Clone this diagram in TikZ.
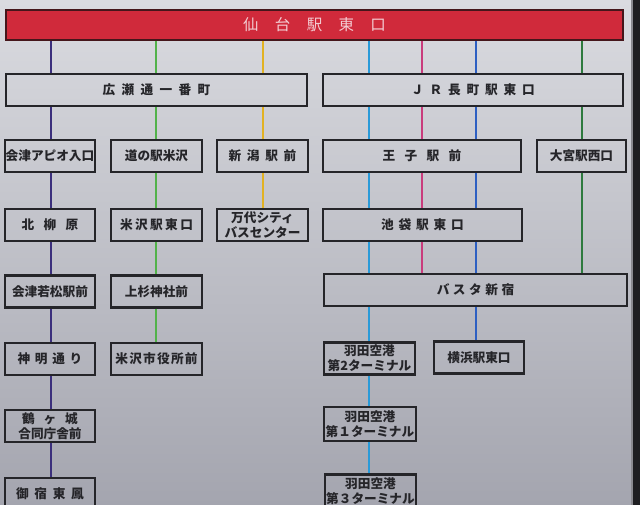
\documentclass[tikz,border=0pt]{standalone}
\usepackage{fontspec}
\newfontfamily\jp{Noto Sans CJK JP}
\newcommand{\spaced}[2]{{\addfontfeature{LetterSpace=#1}#2}}

\definecolor{bgtop}{HTML}{DADBE0}
\definecolor{bgbot}{HTML}{A4A5AF}
\definecolor{frame}{HTML}{1E1E21}
\definecolor{frameedge}{HTML}{8A8A90}
\definecolor{ink}{HTML}{252529}
\definecolor{signred}{HTML}{D02A3B}
\definecolor{signedge}{HTML}{45161B}
\definecolor{titletext}{HTML}{F3CDD3}
\definecolor{navyline}{HTML}{3B2F7C}
\definecolor{greenline}{HTML}{52B24A}
\definecolor{yellowline}{HTML}{E2B222}
\definecolor{skyline}{HTML}{2A9AD8}
\definecolor{pinkline}{HTML}{C93C7C}
\definecolor{blueline}{HTML}{2D5FC2}
\definecolor{darkgreenline}{HTML}{2E7A3E}

\begin{document}
\begin{tikzpicture}[x=0.025cm,y=-0.025cm,
  stop/.style={draw=ink,line width=1.5pt,inner sep=0pt,text=ink,align=center,
    font=\jp\bfseries\fontsize{9}{10.5}\selectfont,minimum height=0.8cm},
  boxw/.style={minimum width=#1*0.025cm},
  route/.style={line width=1.6pt}]

  % Board background
  \useasboundingbox (0,0) rectangle (640,505);
  \clip (0,0) rectangle (640,505);
  \shade[top color=bgtop,bottom color=bgbot] (0,0) rectangle (640,505);
  \fill[frame] (631,0) rectangle (640,505); % right edge of the frame
  \fill[frameedge] (631,0) rectangle (632.5,505);

  % Departure stop
  \node[draw=signedge,fill=signred,line width=1.4pt,minimum width=15.425cm,minimum height=0.75cm,
    inner sep=0pt,text=titletext,font=\jp\fontsize{11}{12}\selectfont] (sendai) at (314.5,25) {\spaced{106}{仙台駅東口}};

  % First stops
  \node[stop,boxw=301] (hirose) at (156.5,90) {\spaced{50}{広瀬通一番町}};
  \node[stop,boxw=300] (nagamachi) at (473,90) {\spaced{46}{ＪＲ長町駅東口}};

  % Column of the Aizu line
  \node[stop,boxw=90] (apio) at (50,156) {会津アピオ入口};
  \node[stop,boxw=90] (kitayana) at (50,225) {\spaced{74}{北柳原}};
  \node[stop,boxw=90] (wakamatsu) at (50,291.5) {会津若松駅前};
  \node[stop,boxw=90] (shinmei) at (50,359) {\spaced{37}{神明通り}};
  \node[stop,boxw=90] (tsuruga) at (50,426) {\spaced{70}{鶴ヶ城}\\合同庁舎前};
  \node[stop,boxw=90] (onjuku) at (50,494) {\spaced{45}{御宿東鳳}};

  % Column of the Yonezawa line
  \node[stop,boxw=91] (michi) at (156.5,156) {道の駅米沢};
  \node[stop,boxw=91] (yonezawa) at (156.5,225) {\spaced{19}{米沢駅東口}};
  \node[stop,boxw=91] (uesugi) at (156.5,291.5) {上杉神社前};
  \node[stop,boxw=91] (shiyakusho) at (156.5,359) {\spaced{10}{米沢市役所前}};

  % Column of the Niigata line
  \node[stop,boxw=91] (niigata) at (262.5,156) {\spaced{45}{新潟駅前}};
  \node[stop,boxw=91] (bandai) at (262.5,225) {万代シティ\\バスセンター};

  % Tokyo side
  \node[stop,boxw=198] (oji) at (422,156) {\spaced{74}{王子駅前}};
  \node[stop,boxw=89] (omiya) at (581.5,156) {大宮駅西口};
  \node[stop,boxw=199] (ikebukuro) at (422.5,225) {\spaced{38}{池袋駅東口}};
  \node[stop,boxw=303] (busta) at (475.5,290) {\spaced{28}{バスタ新宿}};
  \node[stop,boxw=91] (haneda2) at (369.5,358.5) {羽田空港\\第2ターミナル};
  \node[stop,boxw=90] (yokohama) at (479,357.5) {横浜駅東口};
  \node[stop,boxw=92,minimum height=0.85cm] (haneda1) at (370,424) {羽田空港\\第１ターミナル};
  \node[stop,boxw=91,minimum height=0.85cm] (haneda3) at (370.5,491.5) {羽田空港\\第３ターミナル};

  % Line positions
  \coordinate (xnavy) at (51,0);
  \coordinate (xgreen) at (156,0);
  \coordinate (xyellow) at (263,0);
  \coordinate (xsky) at (369,0);
  \coordinate (xpink) at (422,0);
  \coordinate (xblue) at (476,0);
  \coordinate (xdkgreen) at (582,0);

  % Routes
  \draw[route,navyline] (sendai.south -| xnavy) -- (hirose.north -| xnavy)
    (hirose.south -| xnavy) -- (apio.north -| xnavy)
    (apio.south -| xnavy) -- (kitayana.north -| xnavy)
    (kitayana.south -| xnavy) -- (wakamatsu.north -| xnavy)
    (wakamatsu.south -| xnavy) -- (shinmei.north -| xnavy)
    (shinmei.south -| xnavy) -- (tsuruga.north -| xnavy)
    (tsuruga.south -| xnavy) -- (onjuku.north -| xnavy);
  \draw[route,greenline] (sendai.south -| xgreen) -- (hirose.north -| xgreen)
    (hirose.south -| xgreen) -- (michi.north -| xgreen)
    (michi.south -| xgreen) -- (yonezawa.north -| xgreen)
    (yonezawa.south -| xgreen) -- (uesugi.north -| xgreen)
    (uesugi.south -| xgreen) -- (shiyakusho.north -| xgreen);
  \draw[route,yellowline] (sendai.south -| xyellow) -- (hirose.north -| xyellow)
    (hirose.south -| xyellow) -- (niigata.north -| xyellow)
    (niigata.south -| xyellow) -- (bandai.north -| xyellow);
  \draw[route,skyline] (sendai.south -| xsky) -- (nagamachi.north -| xsky)
    (nagamachi.south -| xsky) -- (oji.north -| xsky)
    (oji.south -| xsky) -- (ikebukuro.north -| xsky)
    (ikebukuro.south -| xsky) -- (busta.north -| xsky)
    (busta.south -| xsky) -- (haneda2.north -| xsky)
    (haneda2.south -| xsky) -- (haneda1.north -| xsky)
    (haneda1.south -| xsky) -- (haneda3.north -| xsky);
  \draw[route,pinkline] (sendai.south -| xpink) -- (nagamachi.north -| xpink)
    (nagamachi.south -| xpink) -- (oji.north -| xpink)
    (oji.south -| xpink) -- (ikebukuro.north -| xpink)
    (ikebukuro.south -| xpink) -- (busta.north -| xpink);
  \draw[route,blueline] (sendai.south -| xblue) -- (nagamachi.north -| xblue)
    (nagamachi.south -| xblue) -- (oji.north -| xblue)
    (oji.south -| xblue) -- (ikebukuro.north -| xblue)
    (ikebukuro.south -| xblue) -- (busta.north -| xblue)
    (busta.south -| xblue) -- (yokohama.north -| xblue);
  \draw[route,darkgreenline] (sendai.south -| xdkgreen) -- (nagamachi.north -| xdkgreen)
    (nagamachi.south -| xdkgreen) -- (omiya.north -| xdkgreen)
    (omiya.south -| xdkgreen) -- (busta.north -| xdkgreen);
\end{tikzpicture}
\end{document}
